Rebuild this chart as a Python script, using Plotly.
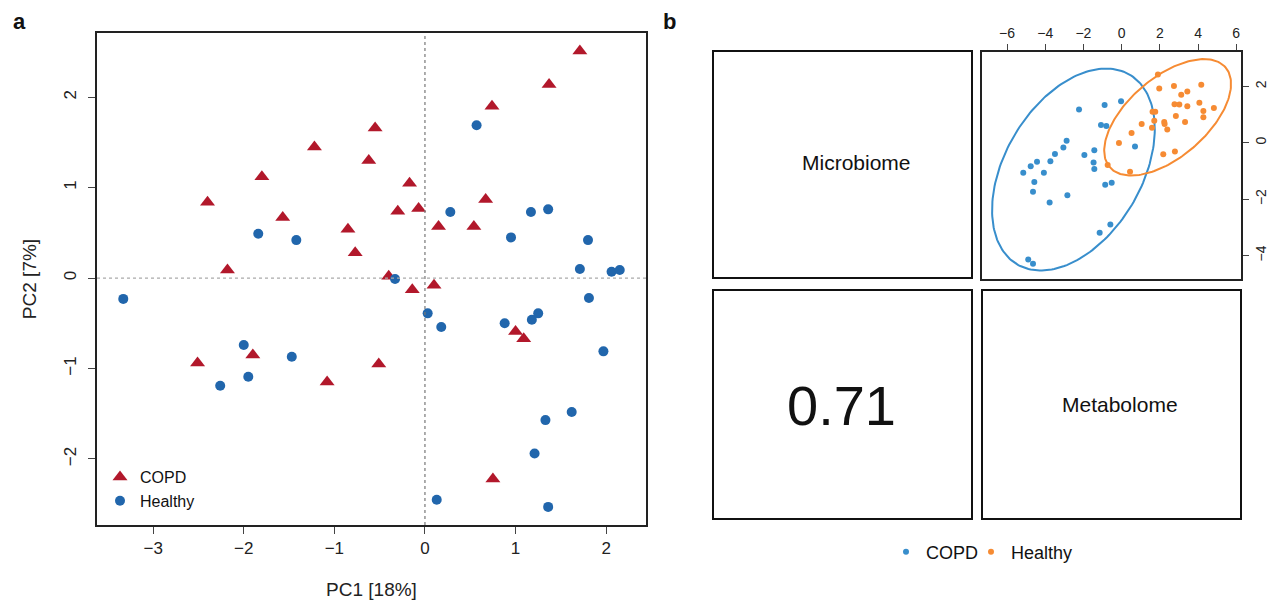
import numpy as np
import plotly.graph_objects as go

W, H = 1270, 606
FONT = "Liberation Sans, Arial, sans-serif"

# ---------------- Panel a data (PCA) ----------------
copd_pc1 = [1.71, 1.37, 0.74, -0.55, -1.22, -0.62, -1.80, -0.17, -2.40, 0.67,
            -1.57, -0.30, -0.07, -0.85, 0.15, 0.54, -0.77, -2.18, -0.40, -0.14,
            0.10, -2.51, -1.90, -1.08, -0.51, 1.00, 1.09, 0.75]
copd_pc2 = [2.51, 2.14, 1.90, 1.66, 1.45, 1.30, 1.12, 1.05, 0.84, 0.87,
            0.67, 0.74, 0.77, 0.54, 0.57, 0.57, 0.28, 0.09, 0.02, -0.13,
            -0.08, -0.94, -0.85, -1.15, -0.95, -0.59, -0.67, -2.22]
healthy_pc1 = [-3.33, -1.84, -1.42, -2.00, -1.47, -1.95, -2.26, 0.57, 0.28, 1.17,
               1.36, 0.95, 1.80, 1.71, 2.06, 2.15, -0.33, 0.03, 0.18, 0.88,
               1.18, 1.25, 1.81, 1.97, 1.62, 1.33, 1.21, 0.13, 1.36]
healthy_pc2 = [-0.23, 0.49, 0.42, -0.74, -0.87, -1.09, -1.19, 1.69, 0.73, 0.73,
               0.76, 0.45, 0.42, 0.10, 0.07, 0.09, -0.01, -0.39, -0.54, -0.50,
               -0.46, -0.39, -0.22, -0.81, -1.48, -1.57, -1.94, -2.45, -2.53]
pc1_ticks = [-3, -2, -1, 0, 1, 2]
pc2_ticks = [-2, -1, 0, 1, 2]

# ---------------- Panel b data (DIABLO) ----------------
b_copd_x = [-2.23, -0.89, -0.03, -1.08, -0.80, -2.88, -3.05, -3.49, -1.43, -1.95,
            -1.47, -1.43, -3.73, -4.43, -4.76, -5.15, -4.07, -4.57, -4.64, -3.77,
            -2.84, -0.86, -0.52, 0.70, -0.59, -1.15, -4.89, -4.64]
b_copd_y = [1.18, 1.34, 1.47, 0.63, 0.60, 0.07, -0.17, -0.40, -0.26, -0.43,
            -0.70, -0.93, -0.65, -0.67, -0.83, -1.06, -1.06, -1.39, -1.74, -2.12,
            -1.86, -1.49, -1.42, -0.13, -2.90, -3.19, -4.14, -4.29]
b_healthy_x = [1.90, 1.97, 2.74, 4.17, 3.44, 3.12, 4.07, 2.77, 3.02, 3.44,
               4.28, 4.83, 4.28, 1.62, 1.76, 2.84, 1.71, 2.23, 2.25, 1.05,
               1.59, 3.32, 2.39, 0.52, -0.14, 2.18, 2.79, -0.73, 0.44]
b_healthy_y = [2.42, 1.93, 2.01, 2.06, 1.82, 1.70, 1.42, 1.37, 1.36, 1.30,
               1.13, 1.23, 0.91, 1.10, 1.10, 0.95, 0.78, 0.74, 0.67, 0.67,
               0.53, 0.74, 0.47, 0.35, -0.01, -0.41, -0.31, -0.79, -1.03]
b_ticks_x = [-6, -4, -2, 0, 2, 4, 6]
b_ticks_y = [-4, -2, 0, 2]
block_names = ["Microbiome", "Metabolome"]
block_corr = "0.71"
ellipse_level_chi2 = 5.991  # 95% level, 2 df

RED = "#B2182B"
BLUE = "#2166AC"
MIXO_BLUE = "#388ECC"
MIXO_ORANGE = "#F68B33"


def px_x(p):
    return p / W


def px_y(p):
    return 1 - p / H


def minus(vals):
    return [str(v).replace("-", "\u2212") for v in vals]


def ellipse(xs, ys, q, n=200):
    xs = np.asarray(xs); ys = np.asarray(ys)
    c = np.cov(np.vstack([xs, ys]))
    vals, vecs = np.linalg.eigh(c)
    t = np.linspace(0, 2 * np.pi, n)
    circ = np.vstack([np.cos(t), np.sin(t)]) * np.sqrt(vals[:, None] * q)
    pts = vecs @ circ
    return pts[0] + xs.mean(), pts[1] + ys.mean()


fig = go.Figure()

# Panel a
fig.add_trace(go.Scatter(x=copd_pc1, y=copd_pc2, mode="markers", name="COPD",
                         marker=dict(symbol="triangle-up", size=13, color=RED),
                         xaxis="x", yaxis="y", legend="legend"))
fig.add_trace(go.Scatter(x=healthy_pc1, y=healthy_pc2, mode="markers", name="Healthy",
                         marker=dict(symbol="circle", size=10, color=BLUE),
                         xaxis="x", yaxis="y", legend="legend"))

# Panel b
ex, ey = ellipse(b_copd_x, b_copd_y, ellipse_level_chi2)
fig.add_trace(go.Scatter(x=ex, y=ey, mode="lines", line=dict(color=MIXO_BLUE, width=2),
                         showlegend=False, xaxis="x2", yaxis="y2", hoverinfo="skip"))
ex, ey = ellipse(b_healthy_x, b_healthy_y, ellipse_level_chi2)
fig.add_trace(go.Scatter(x=ex, y=ey, mode="lines", line=dict(color=MIXO_ORANGE, width=2),
                         showlegend=False, xaxis="x2", yaxis="y2", hoverinfo="skip"))
fig.add_trace(go.Scatter(x=b_copd_x, y=b_copd_y, mode="markers", name="COPD",
                         marker=dict(size=6, color=MIXO_BLUE), legendwidth=40,
                         xaxis="x2", yaxis="y2", legend="legend2"))
fig.add_trace(go.Scatter(x=b_healthy_x, y=b_healthy_y, mode="markers", name="Healthy",
                         marker=dict(size=6, color=MIXO_ORANGE), legendwidth=70,
                         xaxis="x2", yaxis="y2", legend="legend2"))

axis_common = dict(showgrid=False, zeroline=False, showline=True, mirror=True,
                   linecolor="#222", linewidth=1.5, ticks="outside", ticklen=7,
                   tickcolor="#444", tickwidth=1.2,
                   tickfont=dict(family=FONT, size=17, color="#222"))
axis_b = {**axis_common, "tickfont": dict(family=FONT, size=14, color="#222"),
          "linewidth": 2, "ticklen": 6}

fig.update_layout(
    width=W, height=H, margin=dict(l=0, r=0, t=0, b=0),
    paper_bgcolor="white", plot_bgcolor="white",
    font=dict(family=FONT, color="#111"),
    xaxis=dict(**axis_common, domain=[px_x(97), px_x(646)],
               range=[-3.62, 2.44], tickvals=pc1_ticks, ticktext=minus(pc1_ticks),
               title=dict(text="PC1 [18%]", font=dict(size=19, family=FONT, color="#222"),
                          standoff=26)),
    yaxis=dict(**axis_common, domain=[px_y(525), px_y(33)],
               range=[-2.73, 2.71], tickvals=pc2_ticks, tickangle=-90,
               ticktext=minus(pc2_ticks), ticklabelstandoff=5,
               title=dict(text="PC2 [7%]", font=dict(size=19, family=FONT, color="#222"),
                          standoff=20)),
    xaxis2=dict(**axis_b, domain=[px_x(982), px_x(1241)], range=[-7.31, 6.25],
                side="top", tickvals=b_ticks_x, anchor="y2", ticktext=minus(b_ticks_x)),
    yaxis2=dict(**axis_b, domain=[px_y(279), px_y(52)], range=[-4.83, 3.22],
                side="right", tickvals=b_ticks_y, tickangle=-90, anchor="x2",
                ticktext=minus(b_ticks_y)),
    legend=dict(x=px_x(100), y=px_y(460), xanchor="left", yanchor="top",
                bgcolor="rgba(0,0,0,0)", font=dict(family=FONT, size=16, color="#111"),
                tracegroupgap=2, itemwidth=30),
    legend2=dict(x=px_x(886), y=px_y(552), xanchor="left", yanchor="middle",
                 orientation="h", bgcolor="rgba(0,0,0,0)",
                 font=dict(family=FONT, size=18, color="#111"), itemwidth=30),
    showlegend=True,
)

# dotted reference lines at 0 in panel a
fig.add_shape(type="line", xref="x", yref="y domain", x0=0, x1=0, y0=0, y1=1,
              line=dict(color="#777", width=1.2, dash="dot"))
fig.add_shape(type="line", xref="x domain", yref="y", x0=0, x1=1, y0=0, y1=0,
              line=dict(color="#aaa", width=1.2, dash="dot"))

# boxes of the remaining DIABLO panels
for (x0, x1, y0, y1) in [(713, 972, 51, 278), (713, 972, 290, 519), (982, 1241, 290, 519)]:
    fig.add_shape(type="rect", xref="paper", yref="paper",
                  x0=px_x(x0), x1=px_x(x1), y0=px_y(y1), y1=px_y(y0),
                  line=dict(color="#111", width=2), fillcolor="rgba(0,0,0,0)")

def note(x, y, text, size, bold=False):
    fig.add_annotation(x=px_x(x), y=px_y(y), xref="paper", yref="paper",
                       xanchor="center", yanchor="middle",
                       text=f"<b>{text}</b>" if bold else text, showarrow=False,
                       font=dict(family=FONT, size=size, color="#111"))

note(856, 162, block_names[0], 21)
note(1120, 404, block_names[1], 21)
note(841, 405, block_corr, 56)
note(19, 22, "a", 22, bold=True)
note(669, 22, "b", 22, bold=True)

fig.write_html("out.html", config={"displayModeBar": False},
               post_script="document.body.style.margin='0';")
